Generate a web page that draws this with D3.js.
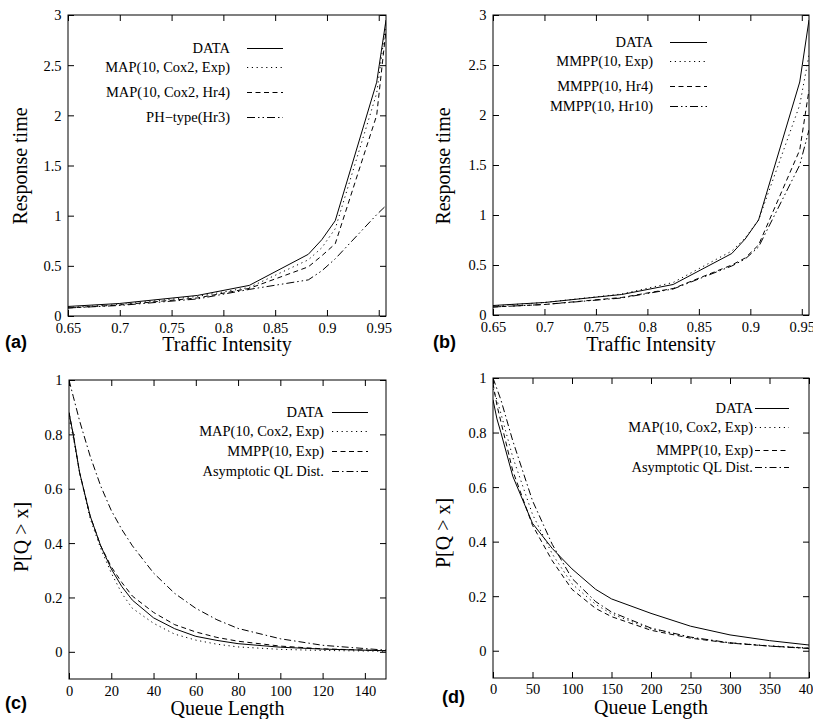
<!DOCTYPE html>
<html>
<head>
<meta charset="utf-8">
<script src="https://cdn.jsdelivr.net/npm/d3@7"></script>
<style>
  body { margin: 0; background: #fff; }
  svg { display: block; }
  .serif { font-family: "Liberation Serif", "DejaVu Serif", serif; }
  .letter { font-family: "Liberation Sans", "DejaVu Sans", sans-serif; font-weight: bold; }
</style>
</head>
<body>
<div id="chart"></div>
<script>
// ---- data ----
// (a) and (b): response time vs traffic intensity
var intensity = [0.65, 0.70, 0.775, 0.825, 0.882, 0.895, 0.908, 0.948, 0.957];
var respData     = [0.095, 0.125, 0.205, 0.305, 0.615, 0.76, 0.95, 2.33, 2.95];
var respMapExp   = [0.085, 0.115, 0.195, 0.285, 0.56, 0.68, 0.87, 2.22, 2.92];
var respMapHr4   = [0.08, 0.11, 0.18, 0.275, 0.49, 0.60, 0.72, 2.0, 2.85];
var respPhHr3    = [0.08, 0.105, 0.17, 0.265, 0.36, 0.45, 0.57, 1.01, 1.1];
var respMmppExp  = [0.09, 0.125, 0.21, 0.325, 0.64, 0.77, 0.95, 2.1, 2.6];
var respMmppHr4  = [0.08, 0.105, 0.175, 0.265, 0.50, 0.57, 0.70, 1.65, 2.25];
var respMmppHr10 = [0.08, 0.105, 0.17, 0.26, 0.49, 0.56, 0.68, 1.5, 1.85];

// (c): queue length tail, short range
var qlenC = [0, 2, 5, 10, 15, 20, 25, 30, 40, 50, 60, 70, 80, 100, 120, 150];
var tailDataC = [0.88, 0.80, 0.66, 0.50, 0.39, 0.305, 0.24, 0.19, 0.125, 0.085, 0.057, 0.042, 0.03, 0.017, 0.01, 0.004];
var tailMapC  = [0.86, 0.79, 0.66, 0.49, 0.38, 0.29, 0.215, 0.16, 0.105, 0.065, 0.043, 0.028, 0.018, 0.009, 0.005, 0.002];
var tailMmppC = [0.88, 0.80, 0.66, 0.50, 0.39, 0.313, 0.255, 0.205, 0.145, 0.10, 0.073, 0.053, 0.039, 0.021, 0.011, 0.004];
var tailAsymC = [1.0, 0.94, 0.85, 0.72, 0.61, 0.52, 0.45, 0.39, 0.29, 0.215, 0.16, 0.118, 0.086, 0.048, 0.024, 0.006];

// (d): queue length tail, long range
var qlenD = [0, 5, 10, 25, 50, 75, 100, 130, 150, 200, 250, 300, 350, 400];
var tailDataD = [0.92, 0.85, 0.80, 0.64, 0.467, 0.375, 0.30, 0.225, 0.19, 0.137, 0.09, 0.058, 0.037, 0.021];
var tailMapD  = [0.96, 0.92, 0.87, 0.71, 0.50, 0.355, 0.245, 0.17, 0.135, 0.08, 0.048, 0.029, 0.018, 0.01];
var tailMmppD = [0.98, 0.90, 0.84, 0.66, 0.46, 0.33, 0.225, 0.155, 0.125, 0.075, 0.046, 0.028, 0.017, 0.009];
var tailAsymD = [1.0, 0.96, 0.92, 0.77, 0.55, 0.39, 0.265, 0.18, 0.142, 0.083, 0.05, 0.029, 0.017, 0.008];

// tick labels
var intensityTicks = [0.65, 0.7, 0.75, 0.8, 0.85, 0.9, 0.95];
var respTicks = [0, 0.5, 1, 1.5, 2, 2.5, 3];
var qlenTicksC = [0, 20, 40, 60, 80, 100, 120, 140];
var qlenTicksD = [0, 50, 100, 150, 200, 250, 300, 350, 400];
var tailTicks = [0, 0.2, 0.4, 0.6, 0.8, 1];

// legend names
var namesA = ["DATA", "MAP(10, Cox2, Exp)", "MAP(10, Cox2, Hr4)", "PH\u2212type(Hr3)"];
var namesB = ["DATA", "MMPP(10, Exp)", "MMPP(10, Hr4)", "MMPP(10, Hr10)"];
var namesCD = ["DATA", "MAP(10, Cox2, Exp)", "MMPP(10, Exp)", "Asymptotic QL Dist."];

// gnuplot-ish line types
var SOLID = null, DOTS = "1.2,3.6", DASH = "5,3.5", DASH2DOT = "8,3,1.5,3,1.5,3", DASHDOT = "7,3,1.5,3";

var svg = d3.select("#chart")
    .append("svg")
    .attr("width", 813)
    .attr("height", 719);

svg.append("rect").attr("width", 813).attr("height", 719).attr("fill", "#fff");

function drawPanel(p) {
    var x = d3.scaleLinear().domain(p.xDomain).range([p.left, p.right]);
    var y = d3.scaleLinear().domain(p.yDomain).range([p.bottom, p.top]);
    var g = svg.append("g");

    // ticks inward on all four sides
    var bottomAxis = g.append("g")
        .attr("transform", "translate(0," + p.bottom + ")")
        .call(d3.axisBottom(x).tickValues(p.xTicks).tickSize(-6).tickPadding(0).tickFormat(d3.format("")));
    bottomAxis.selectAll("text").attr("y", p.xLabelDy).attr("dy", 0);
    g.append("g")
        .attr("transform", "translate(0," + p.top + ")")
        .call(d3.axisTop(x).tickValues(p.xTicks).tickSize(-6).tickFormat(""));
    var leftAxis = g.append("g")
        .attr("transform", "translate(" + p.left + ",0)")
        .call(d3.axisLeft(y).tickValues(p.yTicks).tickSize(-6).tickPadding(6.5).tickFormat(d3.format("")));
    leftAxis.selectAll("text").attr("dy", "0.34em");
    g.append("g")
        .attr("transform", "translate(" + p.right + ",0)")
        .call(d3.axisRight(y).tickValues(p.yTicks).tickSize(-6).tickFormat(""));

    g.selectAll(".domain").remove();
    g.selectAll(".tick line").attr("stroke", "#000").attr("stroke-width", 1);
    g.selectAll(".tick text")
        .attr("class", "serif")
        .attr("font-family", null)
        .attr("font-size", 14.5)
        .attr("fill", "#000");

    g.append("rect")
        .attr("x", p.left).attr("y", p.top)
        .attr("width", p.right - p.left).attr("height", p.bottom - p.top)
        .attr("fill", "none").attr("stroke", "#000").attr("stroke-width", 1);

    // curves, clipped to the frame
    var clipId = "clip" + p.label.replace(/\W/g, "");
    svg.append("clipPath").attr("id", clipId)
        .append("rect")
        .attr("x", p.left).attr("y", p.top)
        .attr("width", p.right - p.left).attr("height", p.bottom - p.top);

    var line = d3.line()
        .x(function(d) { return x(d[0]); })
        .y(function(d) { return y(d[1]); });

    p.series.forEach(function(s) {
        g.append("path")
            .datum(d3.zip(p.xs, s.values))
            .attr("clip-path", "url(#" + clipId + ")")
            .attr("d", line)
            .attr("fill", "none")
            .attr("stroke", "#000")
            .attr("stroke-width", 1)
            .attr("stroke-dasharray", s.dash);
    });

    // key
    p.series.forEach(function(s, i) {
        var by = p.key.rows[i];
        g.append("text")
            .attr("class", "serif")
            .attr("x", p.key.textRight)
            .attr("y", by)
            .attr("text-anchor", "end")
            .attr("font-size", 14.5)
            .text(s.name);
        g.append("line")
            .attr("x1", p.key.x1).attr("x2", p.key.x2)
            .attr("y1", by - 4.5).attr("y2", by - 4.5)
            .attr("stroke", "#000")
            .attr("stroke-width", 1)
            .attr("stroke-dasharray", s.dash);
    });

    // axis titles
    g.append("text")
        .attr("class", "serif")
        .attr("x", (p.left + p.right) / 2)
        .attr("y", p.xTitleY)
        .attr("text-anchor", "middle")
        .attr("font-size", 20)
        .text(p.xTitle);
    g.append("text")
        .attr("class", "serif")
        .attr("transform", "translate(" + p.yTitleX + "," + p.yTitleMid + ") rotate(-90)")
        .attr("text-anchor", "middle")
        .attr("font-size", 20)
        .text(p.yTitle);

    // panel letter
    g.append("text")
        .attr("class", "letter")
        .attr("x", p.labelX)
        .attr("y", p.labelY)
        .attr("font-size", 18)
        .text(p.label);
}

drawPanel({
    label: "(a)", labelX: 5, labelY: 348,
    left: 68, right: 386, top: 15, bottom: 316, xLabelDy: 16.5,
    xDomain: [0.65, 0.957], yDomain: [0, 3],
    xTicks: intensityTicks, yTicks: respTicks,
    xs: intensity,
    series: [
        {name: namesA[0], values: respData, dash: SOLID},
        {name: namesA[1], values: respMapExp, dash: DOTS},
        {name: namesA[2], values: respMapHr4, dash: DASH},
        {name: namesA[3], values: respPhHr3, dash: DASH2DOT}
    ],
    key: {textRight: 230, x1: 247, x2: 283, rows: [53, 72, 97, 122]},
    xTitle: "Traffic Intensity", xTitleY: 351,
    yTitle: "Response time", yTitleX: 27, yTitleMid: 166
});

drawPanel({
    label: "(b)", labelX: 433, labelY: 348,
    left: 493, right: 809, top: 15, bottom: 315, xLabelDy: 16.5,
    xDomain: [0.65, 0.957], yDomain: [0, 3],
    xTicks: intensityTicks, yTicks: respTicks,
    xs: intensity,
    series: [
        {name: namesB[0], values: respData, dash: SOLID},
        {name: namesB[1], values: respMmppExp, dash: DOTS},
        {name: namesB[2], values: respMmppHr4, dash: DASH},
        {name: namesB[3], values: respMmppHr10, dash: DASH2DOT}
    ],
    key: {textRight: 653, x1: 670, x2: 707, rows: [47, 66, 91, 111]},
    xTitle: "Traffic Intensity", xTitleY: 351,
    yTitle: "Response time", yTitleX: 450, yTitleMid: 166
});

drawPanel({
    label: "(c)", labelX: 5, labelY: 709,
    left: 69, right: 386, top: 380, bottom: 679, xLabelDy: 16.5,
    xDomain: [0, 150], yDomain: [-0.1, 1],
    xTicks: qlenTicksC, yTicks: tailTicks,
    xs: qlenC,
    series: [
        {name: namesCD[0], values: tailDataC, dash: SOLID},
        {name: namesCD[1], values: tailMapC, dash: DOTS},
        {name: namesCD[2], values: tailMmppC, dash: DASH},
        {name: namesCD[3], values: tailAsymC, dash: DASHDOT}
    ],
    key: {textRight: 324, x1: 332, x2: 368, rows: [417, 436, 456, 476]},
    xTitle: "Queue Length", xTitleY: 715,
    yTitle: "P[Q > x]", yTitleX: 28, yTitleMid: 537
});

drawPanel({
    label: "(d)", labelX: 442, labelY: 703,
    left: 493, right: 809, top: 378, bottom: 678, xLabelDy: 16,
    xDomain: [0, 400], yDomain: [-0.1, 1],
    xTicks: qlenTicksD, yTicks: tailTicks,
    xs: qlenD,
    series: [
        {name: namesCD[0], values: tailDataD, dash: SOLID},
        {name: namesCD[1], values: tailMapD, dash: DOTS},
        {name: namesCD[2], values: tailMmppD, dash: DASH},
        {name: namesCD[3], values: tailAsymD, dash: DASHDOT}
    ],
    key: {textRight: 753, x1: 755, x2: 789, rows: [413, 432, 455, 472]},
    xTitle: "Queue Length", xTitleY: 714,
    yTitle: "P[Q > x]", yTitleX: 450, yTitleMid: 533
});
</script>
</body>
</html>
